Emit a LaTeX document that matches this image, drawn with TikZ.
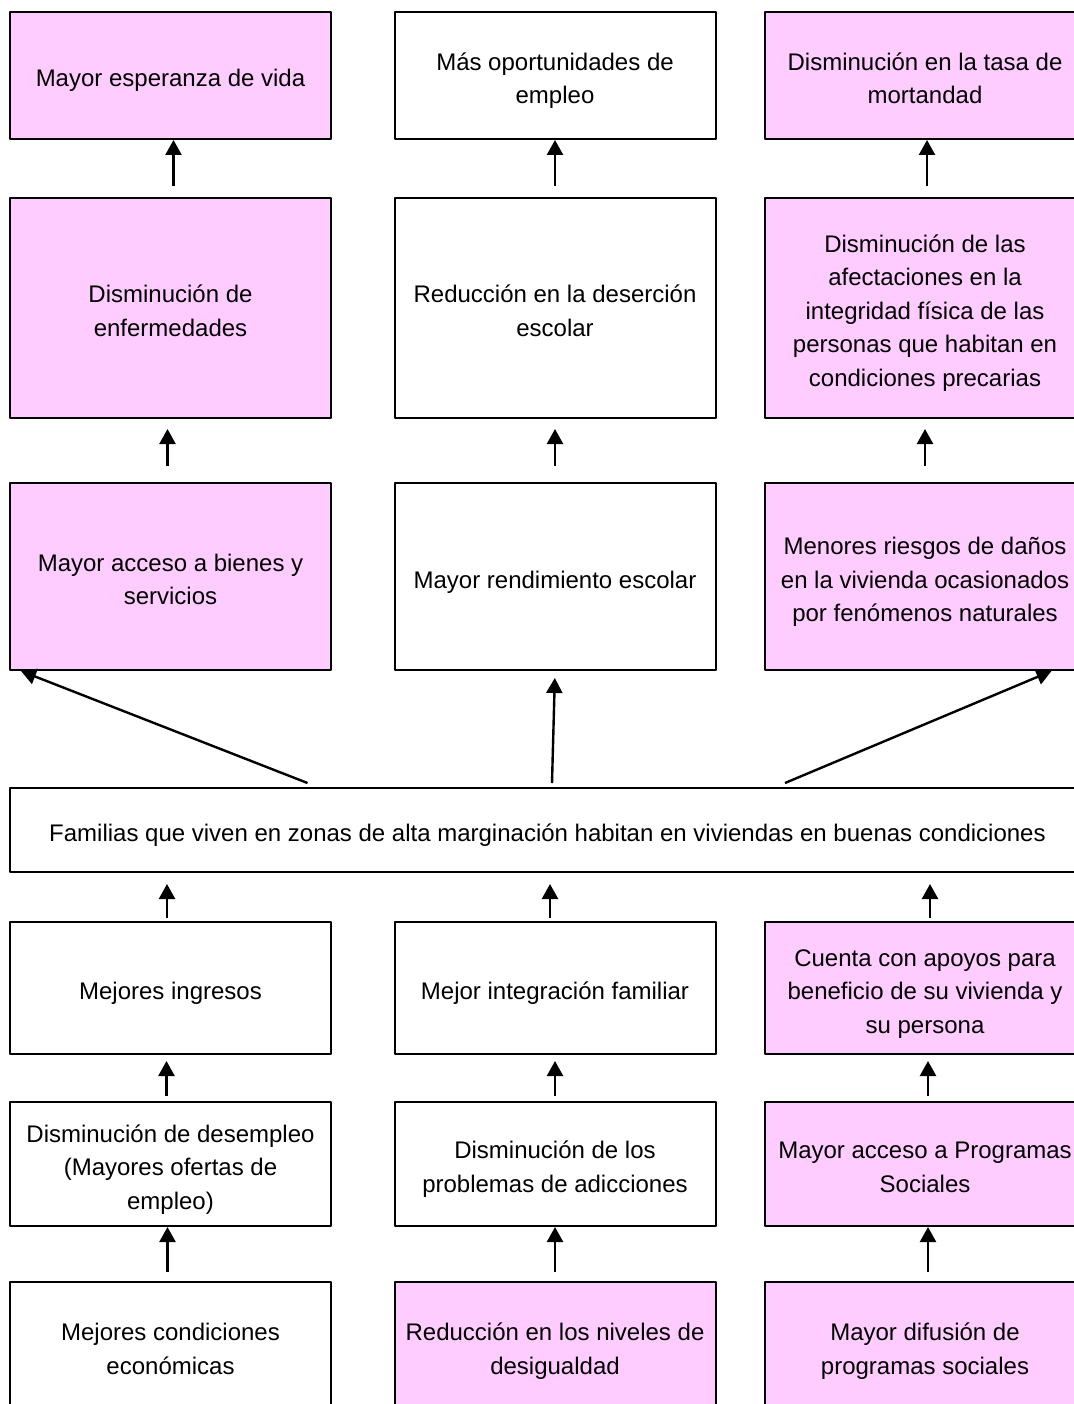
\documentclass[tikz,border=0pt]{standalone}
\usepackage{fontspec}
\setmainfont{Liberation Sans}
\usetikzlibrary{arrows.meta}
\definecolor{rosa}{RGB}{255,204,255}
\begin{document}
\begin{tikzpicture}[x=1pt, y=-1pt, line join=round,
		font=\fontsize{24}{33.5}\selectfont,
		caja/.style={draw, line width=2pt, align=flush center, text width=312pt, inner sep=0pt, minimum width=321pt,
			execute at begin node={\rule{0pt}{30pt}}, execute at end node={\rule[-7pt]{0pt}{7pt}}},
		rosada/.style={caja, fill=rosa},
		flecha/.style={line width=2.4pt, -{Triangle[width=16pt,length=15pt]}}]
	\useasboundingbox (0,0) rectangle (1073,1404);
	% fila 1
	\node[rosada, minimum height=127pt] (l1) at (170.5,75.5) {Mayor esperanza de vida};
	\node[caja, minimum height=127pt] (m1) at (555,75.5) {Más oportunidades de\\empleo};
	\node[rosada, minimum height=127pt] (r1) at (925,75.5) {Disminución en la tasa de\\mortandad};
	% fila 2
	\node[rosada, minimum height=220pt] (l2) at (170.5,308) {Disminución de\\enfermedades};
	\node[caja, minimum height=220pt] (m2) at (555,308) {Reducción en la deserción\\escolar};
	\node[rosada, minimum height=220pt] (r2) at (925,308) {Disminución de las\\afectaciones en la\\integridad física de las\\personas que habitan en\\condiciones precarias};
	% fila 3
	\node[rosada, minimum height=187pt] (l3) at (170.5,576.5) {Mayor acceso a bienes y\\servicios};
	\node[caja, minimum height=187pt] (m3) at (555,576.5) {Mayor rendimiento escolar};
	\node[rosada, minimum height=187pt] (r3) at (925,576.5) {Menores riesgos de daños\\en la vivienda ocasionados\\por fenómenos naturales};
	% problema central
	\node[caja, text width=1065pt, minimum width=1075pt, minimum height=84pt] (w) at (547.5,830) {Familias que viven en zonas de alta marginación habitan en viviendas en buenas condiciones};
	% fila 4
	\node[caja, minimum height=132pt] (l4) at (170.5,988) {Mejores ingresos};
	\node[caja, minimum height=132pt] (m4) at (555,988) {Mejor integración familiar};
	\node[rosada, minimum height=132pt] (r4) at (925,988) {Cuenta con apoyos para\\beneficio de su vivienda y\\su persona};
	% fila 5
	\node[caja, minimum height=124pt] (l5) at (170.5,1164) {Disminución de desempleo\\(Mayores ofertas de\\empleo)};
	\node[caja, minimum height=124pt] (m5) at (555,1164) {Disminución de los\\problemas de adicciones};
	\node[rosada, minimum height=124pt] (r5) at (925,1164) {Mayor acceso a Programas\\Sociales};
	% fila 6
	\node[caja, minimum height=128pt] (l6) at (170.5,1346) {Mejores condiciones\\económicas};
	\node[rosada, minimum height=128pt] (m6) at (555,1346) {Reducción en los niveles de\\desigualdad};
	\node[rosada, minimum height=128pt] (r6) at (925,1346) {Mayor difusión de\\programas sociales};
	% flechas
	\foreach \a/\b/\s in {l2/l1/3, m2/m1/0, r2/r1/2}
		\draw[flecha, shorten <=11pt] ([xshift=\s pt]\a.north) -- ([xshift=\s pt]\b.south);
	\foreach \a/\b/\s in {l3/l2/-3, m3/m2/0, r3/r2/0}
		\draw[flecha, shorten <=16pt, shorten >=10pt] ([xshift=\s pt]\a.north) -- ([xshift=\s pt]\b.south);
	\draw[flecha] ([shift={(-240pt,4pt)}]w.north) -- ([xshift=12pt]l3.south west);
	\draw[flecha, shorten >=7pt] ([shift={(4.5pt,4pt)}]w.north) -- (m3.south);
	\draw[flecha] ([shift={(237.5pt,4pt)}]w.north) -- ([xshift=288pt]r3.south west);
	\foreach \a/\s in {l4/-3.5, m4/-5, r4/5}
		\draw[flecha, shorten <=3pt, shorten >=11pt] ([xshift=\s pt]\a.north) -- ([xshift=\s pt]\a.north |- w.south);
	\foreach \a/\b/\s in {l5/l4/-4, m5/m4/0, r5/r4/3}
		\draw[flecha, shorten <=5pt, shorten >=6pt] ([xshift=\s pt]\a.north) -- ([xshift=\s pt]\b.south);
	\foreach \a/\b/\s in {l6/l5/-3, m6/m5/0, r6/r5/3}
		\draw[flecha, shorten <=9pt] ([xshift=\s pt]\a.north) -- ([xshift=\s pt]\b.south);
\end{tikzpicture}
\end{document}
